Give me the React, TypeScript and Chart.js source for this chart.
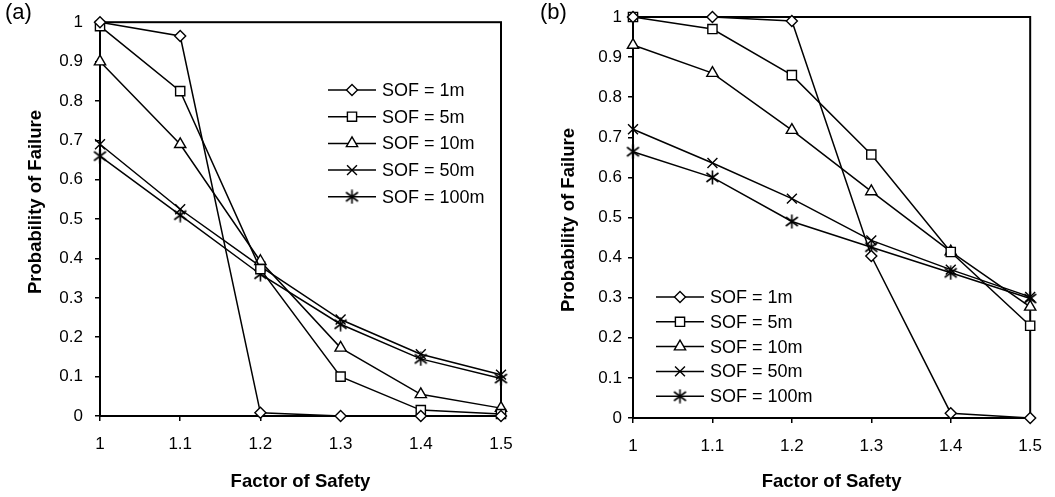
import React, { useEffect, useRef } from 'react';
import { Chart, registerables } from 'chart.js';
import { drawPoint } from 'chart.js/helpers';

Chart.register(...registerables);

// ---------- data ----------
const factorOfSafety = [1, 1.1, 1.2, 1.3, 1.4, 1.5];
const seriesLabels = ['SOF = 1m', 'SOF = 5m', 'SOF = 10m', 'SOF = 50m', 'SOF = 100m'];

// panel (a)
const aSof1 = [1.0, 0.965, 0.008, 0, 0, 0];
const aSof5 = [0.99, 0.825, 0.373, 0.1, 0.015, 0.005];
const aSof10 = [0.9, 0.69, 0.393, 0.173, 0.055, 0.02];
const aSof50 = [0.69, 0.525, 0.38, 0.245, 0.157, 0.105];
const aSof100 = [0.66, 0.51, 0.36, 0.233, 0.145, 0.095];

// panel (b)
const bSof1 = [1.0, 1.0, 0.99, 0.404, 0.012, 0];
const bSof5 = [1.0, 0.97, 0.855, 0.657, 0.414, 0.23];
const bSof10 = [0.93, 0.86, 0.718, 0.565, 0.415, 0.277];
const bSof50 = [0.72, 0.636, 0.547, 0.443, 0.37, 0.302];
const bSof100 = [0.664, 0.6, 0.49, 0.426, 0.362, 0.298];

const xAxisTitle = 'Factor of Safety';
const yAxisTitle = 'Probability of Failure';
const panelLabels = ['(a)', '(b)'];

const FONT = '"Liberation Sans", Arial, sans-serif';

function makeAsterisk(): HTMLCanvasElement {
  const c = document.createElement('canvas');
  c.width = 15;
  c.height = 15;
  const g = c.getContext('2d')!;
  g.strokeStyle = '#000';
  g.lineWidth = 1.6;
  g.beginPath();
  g.moveTo(7.5, 0.5);
  g.lineTo(7.5, 14.5);
  g.moveTo(1.5, 3);
  g.lineTo(13.5, 12);
  g.moveTo(13.5, 3);
  g.lineTo(1.5, 12);
  g.stroke();
  return c;
}

type PanelLayout = {
  canvasLeft: number;
  canvasWidth: number;
  padTop: number;
  padRight: number;
  yWidth: number;
  xHeight: number;
  yTickPad: number;
  legendX: number;
  legendY: number;
  legendGap: number;
  yTitleX: number;
  yTitleY: number;
};

function Panel({ series, layout }: { series: number[][]; layout: PanelLayout }) {
  const ref = useRef<HTMLCanvasElement | null>(null);

  useEffect(() => {
    if (!ref.current) return;
    const asterisk = makeAsterisk();
    const markers: { style: any; radius: number }[] = [
      { style: 'rectRot', radius: 5.5 },
      { style: 'rect', radius: 6.5 },
      { style: 'triangle', radius: 6.5 },
      { style: 'crossRot', radius: 7 },
      { style: asterisk, radius: 7 },
    ];

    const datasets = series.map((vals, i) => ({
      label: seriesLabels[i],
      data: factorOfSafety.map((x, j) => ({ x, y: vals[j] })),
      borderColor: '#000',
      borderWidth: 1.5,
      pointStyle: markers[i].style,
      pointRadius: markers[i].radius,
      pointBackgroundColor: '#fff',
      pointBorderColor: '#000',
      pointBorderWidth: 1.4,
      fill: false,
      tension: 0,
      clip: false as any,
    }));

    const framePlugin = {
      id: 'frame',
      beforeDatasetsDraw(chart: any) {
        const { ctx, chartArea } = chart;
        ctx.save();
        ctx.strokeStyle = '#000';
        ctx.lineWidth = 2;
        ctx.strokeRect(chartArea.left, chartArea.top, chartArea.right - chartArea.left, chartArea.bottom - chartArea.top);
        ctx.restore();
      },
    };

    const extrasPlugin = {
      id: 'extras',
      afterDraw(chart: any) {
        const { ctx } = chart;
        ctx.save();
        // y axis title
        ctx.translate(layout.yTitleX, layout.yTitleY);
        ctx.rotate(-Math.PI / 2);
        ctx.fillStyle = '#000';
        ctx.font = `bold 18.5px ${FONT}`;
        ctx.textAlign = 'center';
        ctx.textBaseline = 'middle';
        ctx.fillText(yAxisTitle, 0, 0);
        ctx.restore();

        // inline legend
        ctx.save();
        chart.data.datasets.forEach((ds: any, i: number) => {
          const y = layout.legendY + i * layout.legendGap;
          const x0 = layout.legendX;
          ctx.strokeStyle = '#000';
          ctx.lineWidth = 1.5;
          ctx.beginPath();
          ctx.moveTo(x0, y);
          ctx.lineTo(x0 + 48, y);
          ctx.stroke();
          ctx.fillStyle = '#fff';
          ctx.strokeStyle = '#000';
          ctx.lineWidth = 1.4;
          drawPoint(ctx, { pointStyle: ds.pointStyle, radius: ds.pointRadius, borderWidth: 1.4, rotation: 0 } as any, x0 + 24, y);
          ctx.fillStyle = '#000';
          ctx.font = `18px ${FONT}`;
          ctx.textAlign = 'left';
          ctx.textBaseline = 'middle';
          ctx.fillText(ds.label, x0 + 54, y + 1);
        });
        ctx.restore();
      },
    };

    const tickFont = { family: FONT, size: 17 };
    const gridOpts = {
      display: true,
      drawOnChartArea: false,
      drawTicks: true,
      tickLength: 5,
      color: '#000',
      lineWidth: 1.5,
    };
    const borderOpts = { display: true, color: '#000', width: 2 };

    const chart = new Chart(ref.current, {
      type: 'line',
      data: { datasets },
      options: {
        animation: false,
        responsive: false,
        maintainAspectRatio: false,
        devicePixelRatio: 1,
        layout: { padding: { left: 0, right: layout.padRight, top: layout.padTop, bottom: 0 } },
        plugins: { legend: { display: false }, tooltip: { enabled: false } },
        scales: {
          x: {
            type: 'linear',
            min: 1,
            max: 1.5,
            ticks: {
              stepSize: 0.1,
              font: tickFont,
              color: '#000',
              padding: 13,
              maxRotation: 0,
              callback: (v: any) => String(Math.round(Number(v) * 10) / 10),
            },
            grid: gridOpts,
            border: borderOpts,
            title: {
              display: true,
              text: xAxisTitle,
              color: '#000',
              font: { family: FONT, size: 18.5, weight: 'bold' },
              padding: { top: 0, bottom: 4 },
            },
            afterFit: (s: any) => {
              s.height = layout.xHeight;
            },
          },
          y: {
            type: 'linear',
            min: 0,
            max: 1,
            ticks: {
              stepSize: 0.1,
              font: tickFont,
              color: '#000',
              padding: layout.yTickPad,
              callback: (v: any) => String(Math.round(Number(v) * 10) / 10),
            },
            grid: gridOpts,
            border: borderOpts,
            afterFit: (s: any) => {
              s.width = layout.yWidth;
            },
          },
        } as any,
      },
      plugins: [framePlugin, extrasPlugin],
    });
    return () => chart.destroy();
  }, [series, layout]);

  return (
    <canvas
      ref={ref}
      width={layout.canvasWidth}
      height={497}
      style={{ position: 'absolute', left: layout.canvasLeft, top: 0, width: layout.canvasWidth, height: 497 }}
    />
  );
}

const seriesA = [aSof1, aSof5, aSof10, aSof50, aSof100];
const seriesB = [bSof1, bSof5, bSof10, bSof50, bSof100];

const layoutA: PanelLayout = {
  canvasLeft: 0,
  canvasWidth: 530,
  padTop: 16,
  padRight: 29,
  yWidth: 100,
  xHeight: 81,
  yTickPad: 12,
  legendX: 328,
  legendY: 90,
  legendGap: 26.7,
  yTitleX: 36,
  yTitleY: 202,
};

const layoutB: PanelLayout = {
  canvasLeft: 530,
  canvasWidth: 525,
  padTop: 17,
  padRight: 21,
  yWidth: 103,
  xHeight: 79,
  yTickPad: 6,
  legendX: 126,
  legendY: 297,
  legendGap: 24.8,
  yTitleX: 39,
  yTitleY: 220,
};

export default function App() {
  return (
    <div
      style={{
        position: 'fixed',
        left: 0,
        top: 0,
        width: 1055,
        height: 497,
        background: '#fff',
        fontFamily: FONT,
        overflow: 'hidden',
      }}
    >
      <Panel series={seriesA} layout={layoutA} />
      <Panel series={seriesB} layout={layoutB} />
      <div style={{ position: 'absolute', left: 5, top: 1, fontSize: 22, lineHeight: '22px', color: '#000' }}>{panelLabels[0]}</div>
      <div style={{ position: 'absolute', left: 540, top: 1, fontSize: 22, lineHeight: '22px', color: '#000' }}>{panelLabels[1]}</div>
    </div>
  );
}
